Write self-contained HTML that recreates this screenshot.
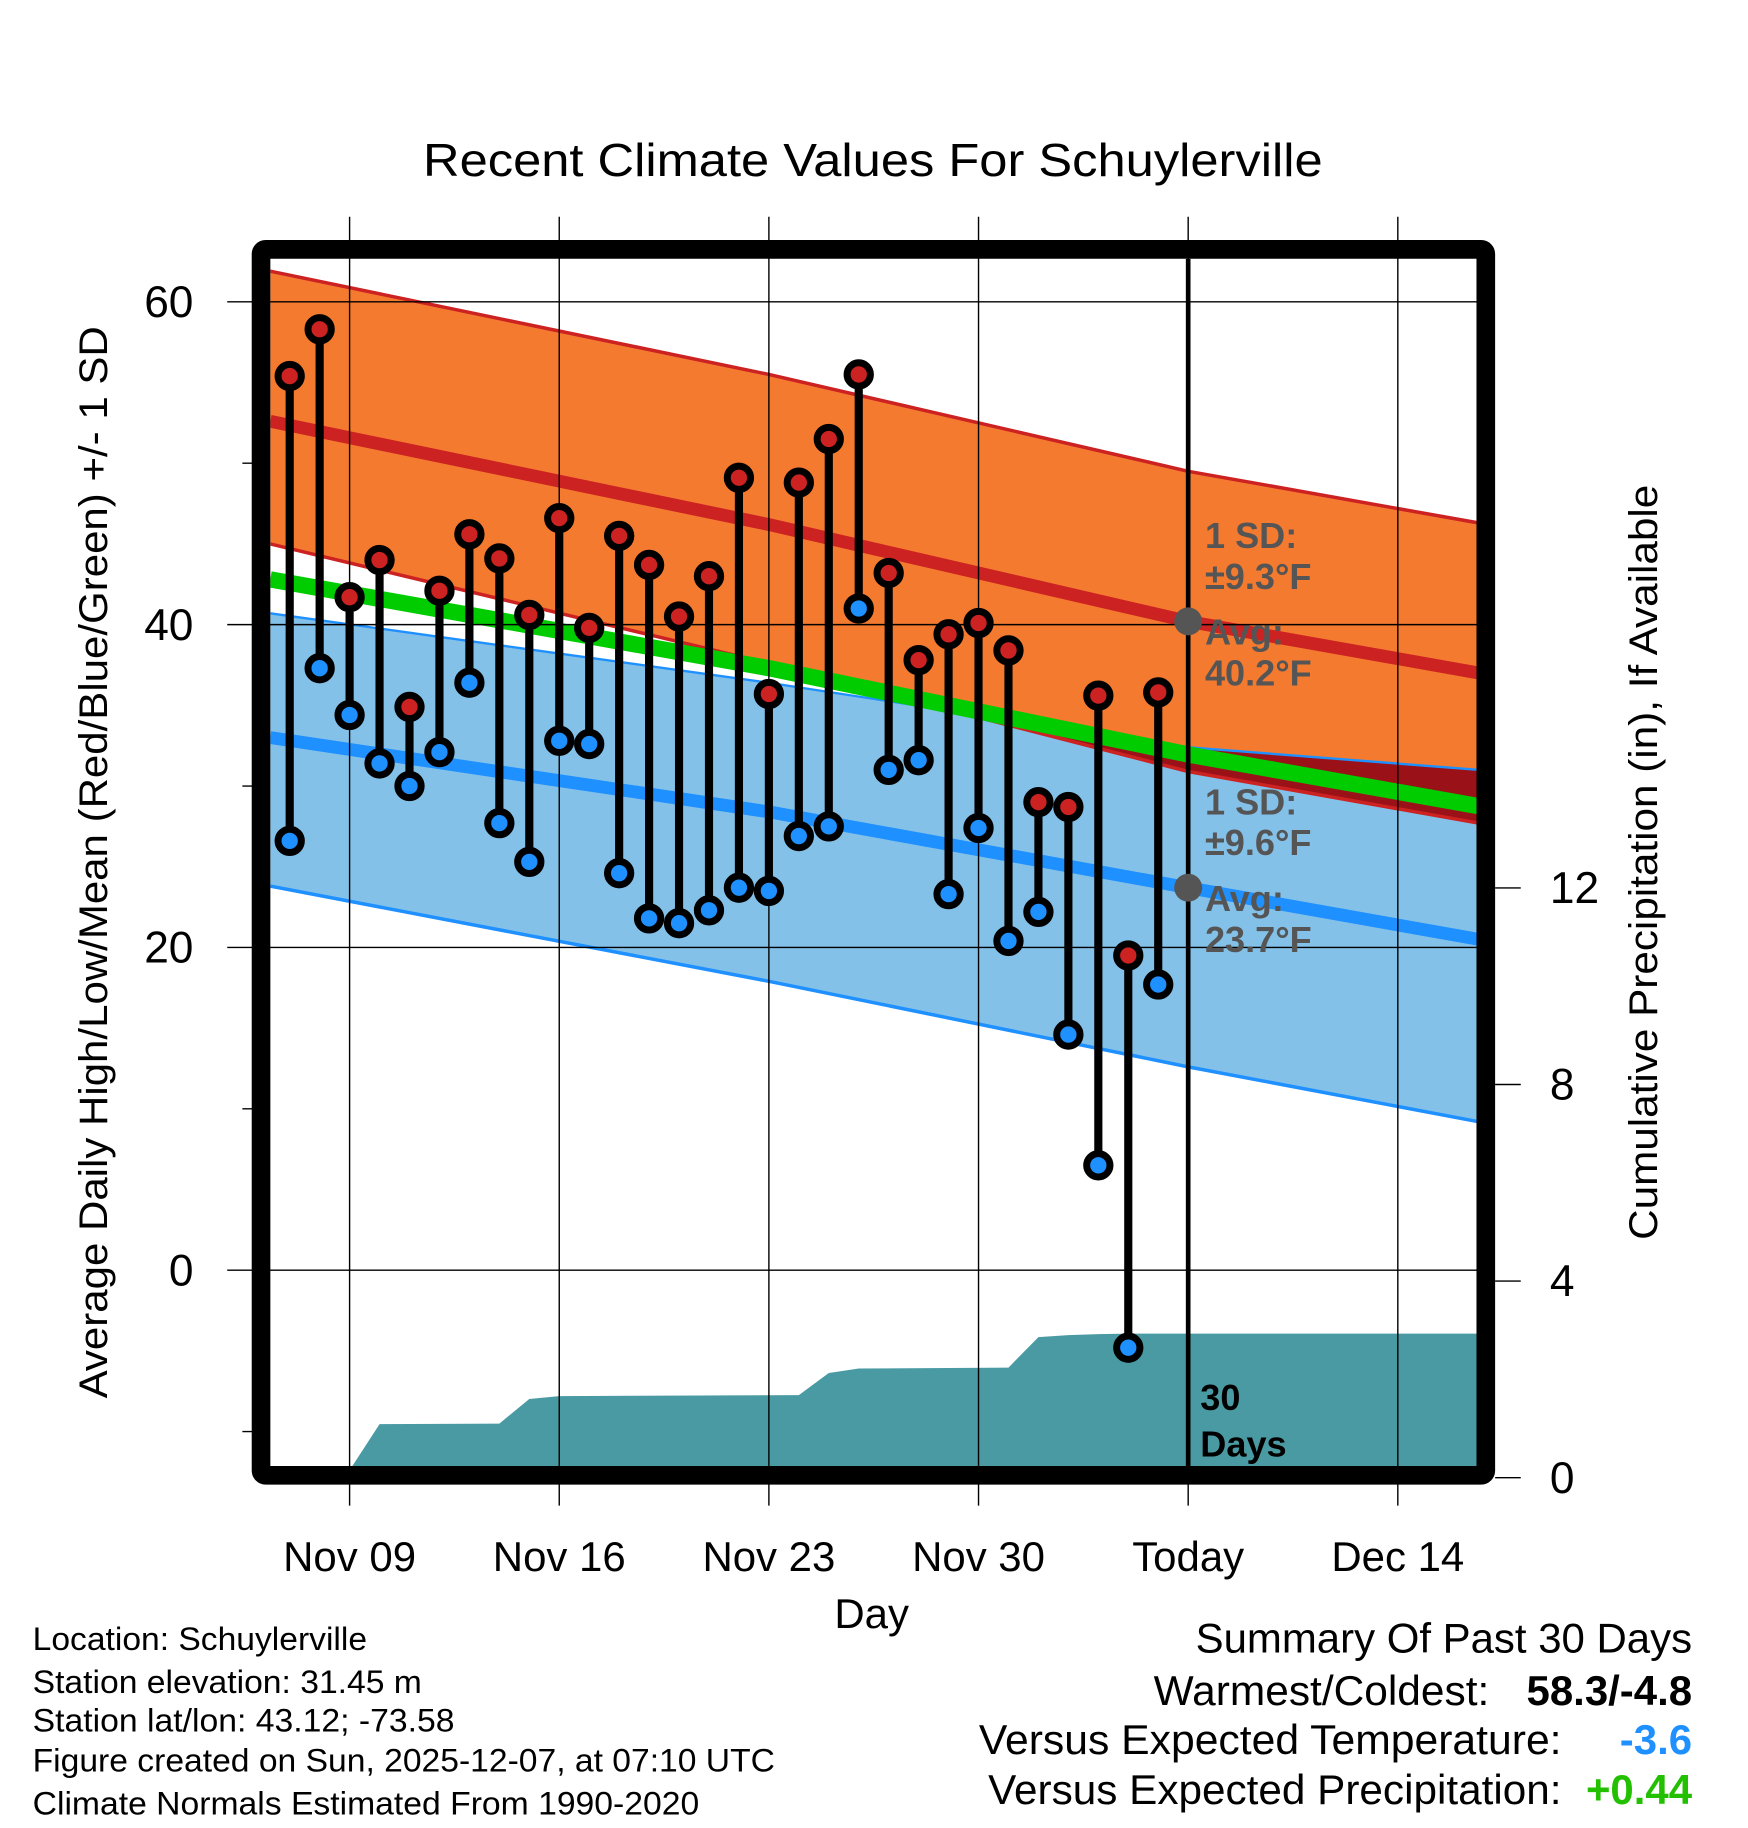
<!DOCTYPE html>
<html><head><meta charset="utf-8"><style>html,body{margin:0;padding:0;background:#fff}svg{display:block}text{font-family:"Liberation Sans",sans-serif}</style></head>
<body>
<svg id="chart" xmlns="http://www.w3.org/2000/svg" width="1748" height="1828" viewBox="0 0 1500 1568.65" preserveAspectRatio="none">
<rect width="1500" height="1568.65" fill="#fff"/>
<defs><clipPath id="plotclip"><rect x="232" y="222" width="1036" height="1038"/></clipPath><clipPath id="hiclip"><polygon id="hiclippoly"/></clipPath></defs>
<g id="bands" clip-path="url(#plotclip)"></g>
<g id="grid"></g>
<g id="marks" clip-path="url(#plotclip)"></g>
<g id="annot"></g>
<rect x="224" y="214" width="1051" height="1052" fill="none" stroke="#000" stroke-width="16" rx="4"/>
<text x="749" y="151" font-size="40" text-anchor="middle" textLength="772" lengthAdjust="spacingAndGlyphs">Recent Climate Values For Schuylerville</text>
<text transform="translate(92,740) rotate(-90)" font-size="34" text-anchor="middle" textLength="920" lengthAdjust="spacingAndGlyphs">Average Daily High/Low/Mean (Red/Blue/Green) +/- 1 SD</text>
<text transform="translate(1422,740) rotate(-90)" font-size="34" text-anchor="middle" textLength="648" lengthAdjust="spacingAndGlyphs">Cumulative Precipitation (in), If Available</text>
<text x="748" y="1397" font-size="36" text-anchor="middle">Day</text>
<g font-size="28">
<text x="28" y="1416" textLength="287" lengthAdjust="spacingAndGlyphs">Location: Schuylerville</text>
<text x="28" y="1453" textLength="334" lengthAdjust="spacingAndGlyphs">Station elevation: 31.45 m</text>
<text x="28" y="1486" textLength="362" lengthAdjust="spacingAndGlyphs">Station lat/lon: 43.12; -73.58</text>
<text x="28" y="1520" textLength="637" lengthAdjust="spacingAndGlyphs">Figure created on Sun, 2025-12-07, at 07:10 UTC</text>
<text x="28" y="1557" textLength="572" lengthAdjust="spacingAndGlyphs">Climate Normals Estimated From 1990-2020</text>
</g>
<g font-size="36" text-anchor="end">
<text x="1452" y="1418" textLength="426" lengthAdjust="spacingAndGlyphs">Summary Of Past 30 Days</text>
<text x="1278" y="1463" textLength="288" lengthAdjust="spacingAndGlyphs">Warmest/Coldest:</text>
<text x="1452" y="1463" font-weight="bold">58.3/-4.8</text>
<text x="1340" y="1505" textLength="500" lengthAdjust="spacingAndGlyphs">Versus Expected Temperature:</text>
<text x="1452" y="1505" font-weight="bold" fill="#1e90ff">-3.6</text>
<text x="1340" y="1548" textLength="492" lengthAdjust="spacingAndGlyphs">Versus Expected Precipitation:</text>
<text x="1452" y="1548" font-weight="bold" fill="#22c000">+0.44</text>
</g>
</svg>
<script>
// days relative to Nov 9 (0 = Nov 09)
const dataDays = [-2,-1,0,1,2,3,4,5,6,7,8,9,10,11,12,13,14,15,16,17,18,19,20,21,22,23,24,25,26,27];
const highs = [55.4,58.3,41.7,44.0,34.9,42.1,45.6,44.1,40.6,46.6,39.8,45.5,43.7,40.5,43.0,49.1,35.7,48.8,51.5,55.5,43.2,37.8,39.4,40.1,38.4,29.0,28.7,35.6,19.5,35.8];
const lows = [26.6,37.3,34.4,31.4,30.0,32.1,36.4,27.7,25.3,32.8,32.6,24.6,21.8,21.5,22.3,23.7,23.5,26.9,27.5,41.0,31.0,31.6,23.3,27.4,20.4,22.2,14.6,6.5,-4.8,17.7];
const precipDays = [-2.65,-0.5,0,1,5,6,7,15,16,17,22,23,24,25,26,37.7];
const precipCum = [0,0,0.15,1.09,1.1,1.6,1.66,1.68,2.13,2.22,2.24,2.86,2.9,2.92,2.93,2.93];
const normDays = [-2.65,14,28,37.7];
const normHigh = [52.6,46.2,40.2,37.0];
const normHighUp = [61.9,55.5,49.5,46.3];
const normHighLo = [45.0,37.6,30.9,27.7];
const normLow = [33.0,28.4,23.7,20.5];
const normLowUp = [40.7,36.4,32.4,31.0];
const normLowLo = [23.8,17.9,12.6,9.2];
const xTickDays = [0,7,14,21,28,35];
const xTickLabels = ["Nov 09","Nov 16","Nov 23","Nov 30","Today","Dec 14"];
const yTicks = [0,20,40,60];
const yMinor = [-10,10,30,50];
const pTicks = [0,4,8,12];

const NS="http://www.w3.org/2000/svg";
const x = d => 300 + d*25.7;
const y = t => 1090 - t*13.85;
const yp = p => 1268 - p*42.17;
function mk(tag, attrs, parent){const e=document.createElementNS(NS,tag);for(const k in attrs)e.setAttribute(k,attrs[k]);parent.appendChild(e);return e;}
const bands=document.getElementById('bands'),grid=document.getElementById('grid'),marks=document.getElementById('marks'),annot=document.getElementById('annot');
const pts=(arr)=>normDays.map((d,i)=>x(d)+','+y(arr[i]));
function bandPoly(up,lo){return pts(up).concat(pts(lo).reverse()).join(' ');}
let e;
e=mk('polygon',{points:bandPoly(normHighUp,normHighLo),fill:'#f47a30'},bands);


e=mk('polygon',{points:bandPoly(normLowUp,normLowLo),fill:'#84c1e8'},bands);


document.getElementById('hiclippoly').setAttribute('points',bandPoly(normHighUp,normHighLo));
e=mk('polygon',{points:bandPoly(normLowUp,normLowLo),fill:'#9b1118','clip-path':'url(#hiclip)'},bands);


[[normHighUp,'#cc2222',3],[normHighLo,'#cc2222',3],[normLowUp,'#1e90ff',2],[normLowLo,'#1e90ff',3],[normHigh,'#cc2222',11],[normLow,'#1e90ff',11]].forEach((s,i)=>{
 e=mk('polyline',{points:pts(s[0]).join(' '),fill:'none',stroke:s[1],'stroke-width':s[2]},bands);
 
 
});
const normMean=normHigh.map((v,i)=>(v+normLow[i])/2);
e=mk('polyline',{points:pts(normMean).join(' '),fill:'none',stroke:'#00cc00','stroke-width':14},bands);


// precipitation
let pp=[x(precipDays[0])+','+yp(0)];
precipDays.forEach((d,i)=>pp.push(x(d)+','+yp(precipCum[i])));
pp.push(x(precipDays[precipDays.length-1])+','+yp(0));
e=mk('polygon',{points:pp.join(' '),fill:'#4a9aa3'},bands);


// grid
xTickDays.forEach((d,i)=>{
 e=mk('line',{x1:x(d),x2:x(d),y1:186,y2:1292,stroke:'#000','stroke-width':1.2},grid);
 
 
 e=mk('text',{x:x(d),y:1348,'font-size':36,'text-anchor':'middle'},grid);e.textContent=xTickLabels[i];
 
 
});
yTicks.forEach(t=>{
 e=mk('line',{x1:195,x2:1268,y1:y(t),y2:y(t),stroke:'#000','stroke-width':1.2},grid);
 
 
 e=mk('text',{x:166,y:y(t)+13,'font-size':38,'text-anchor':'end'},grid);e.textContent=t;
 
 
});
yMinor.forEach(t=>{
 e=mk('line',{x1:208,x2:225,y1:y(t),y2:y(t),stroke:'#000','stroke-width':1.2},grid);
 
 
});
pTicks.forEach(p=>{
 e=mk('line',{x1:1283,x2:1305,y1:yp(p),y2:yp(p),stroke:'#000','stroke-width':1.2},grid);
 
 
 e=mk('text',{x:1330,y:yp(p)+13,'font-size':38},grid);e.textContent=p;
 
 
});
// today line
e=mk('line',{x1:x(28),x2:x(28),y1:222,y2:1262,stroke:'#000','stroke-width':4},marks);


// stems
dataDays.forEach((d,i)=>{
 e=mk('line',{x1:x(d),x2:x(d),y1:y(highs[i]),y2:y(lows[i]),stroke:'#000','stroke-width':7},marks);
 
 
});
dataDays.forEach((d,i)=>{
 e=mk('circle',{cx:x(d),cy:y(highs[i]),r:10,fill:'#cc2222',stroke:'#000','stroke-width':6},marks);
 
 
 e=mk('circle',{cx:x(d),cy:y(lows[i]),r:10,fill:'#1e90ff',stroke:'#000','stroke-width':6},marks);
 
 
});
// annotations
const todayHigh=normHigh[2], todayLow=normLow[2];
[[todayHigh,'40.2','9.3'],[todayLow,'23.7','9.6']].forEach(a=>{
 e=mk('circle',{cx:x(28),cy:y(a[0]),r:12,fill:'#555'},annot);
 
 
 const base=y(a[0]);
 const lines=[['1 SD:',-63],['\u00b1'+a[2]+'\u00b0F',-28],['Avg:',20],[a[1]+'\u00b0F',55]];
 lines.forEach(l=>{
  e=mk('text',{x:1034,y:base+l[1],'font-size':31,'font-weight':'bold',fill:'#555'},annot);e.textContent=l[0];
  
  
 });
});
e=mk('text',{x:1030,y:1210,'font-size':31,'font-weight':'bold'},annot);e.textContent='30';


e=mk('text',{x:1030,y:1250,'font-size':31,'font-weight':'bold'},annot);e.textContent='Days';


</script>
</body></html>
